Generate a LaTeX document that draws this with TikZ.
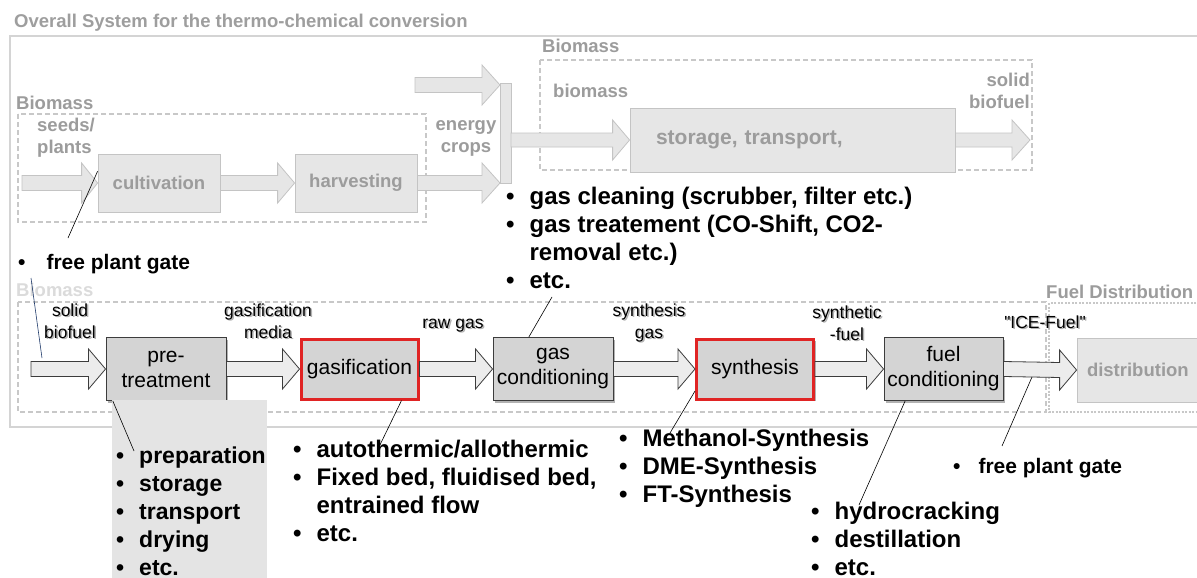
\documentclass[tikz,border=0pt]{standalone}
\usepackage{fontspec}
\setmainfont{Liberation Sans}
\usetikzlibrary{calc,shadows}
\definecolor{fadefill}{HTML}{E6E6E6}
\definecolor{fadedraw}{HTML}{C4C4C4}
\definecolor{fadetext}{HTML}{9C9C9C}
\definecolor{boxfill}{HTML}{D4D4D4}
\definecolor{boxdraw}{HTML}{3C3C3C}
\definecolor{redline}{HTML}{E02424}
\definecolor{arrfill}{HTML}{ECECEC}
\definecolor{dashcol}{HTML}{C8C8C8}
\definecolor{bluelink}{HTML}{1F3A6A}
\definecolor{listbg}{HTML}{E4E4E4}
\newcommand\fs[2]{\fontsize{#1}{#2}\selectfont}
\newcommand\shd[1]{\leavevmode\rlap{\hspace{1.5pt}\raisebox{-1.5pt}{\textcolor{black!30}{#1}}}#1}
\newcommand\blist[2][15pt]{\begin{tabular}[t]{@{}l@{\hspace{#1}}l@{}}#2\end{tabular}}
\newcommand\ctab[1]{\begin{tabular}[t]{@{}c@{}}#1\end{tabular}}
\newcommand\ltab[1]{\begin{tabular}[t]{@{}l@{}}#1\end{tabular}}
\newcommand\rtab[1]{\begin{tabular}[t]{@{}r@{}}#1\end{tabular}}
% start, tip, shaft half, head half, head length, style
\newcommand\blockarrow[6]{%
  \draw[#6] ($(#1)+(0,-#3)$) -- ($(#2)+(-#5,-#3)$) -- ($(#2)+(-#5,-#4)$) -- (#2)
    -- ($(#2)+(-#5,#4)$) -- ($(#2)+(-#5,#3)$) -- ($(#1)+(0,#3)$) -- cycle;}
\begin{document}
\begin{tikzpicture}[x=1pt,y=-1pt,
  fadebox/.style={draw=fadedraw, fill=fadefill, line width=0.8pt, font=\bfseries\fs{18.5}{22}, text=fadetext, inner sep=0pt},
  mainbox/.style={draw=boxdraw, fill=boxfill, line width=0.9pt, font=\fs{21}{25}, align=center, inner sep=0pt,
     minimum width=120pt, minimum height=63pt,
     drop shadow={shadow xshift=2pt, shadow yshift=-2pt, fill=black!30, opacity=1}},
  redbox/.style={mainbox, draw=redline, line width=3pt},
  fadearrow/.style={draw=fadedraw, fill=fadefill, line width=0.8pt},
  mainarrow/.style={draw=boxdraw, fill=arrfill, line width=0.8pt},
  dashbox/.style={draw=dashcol, dash pattern=on 5pt off 3pt, line width=1.1pt},
  fadelabel/.style={font=\bfseries\fs{18.5}{22}, text=fadetext, inner sep=0pt},
  flowlabel/.style={font=\fs{17.5}{22}, inner sep=0pt, anchor=base},
  bulletlist/.style={font=\bfseries\fs{24}{28}, inner sep=0pt, anchor=base west},
  smalllist/.style={bulletlist, font=\bfseries\fs{21}{25}},
  link/.style={draw=black, line width=0.6pt}]
\useasboundingbox (0,0) rectangle (1197,578);
\fill[white] (0,0) rectangle (1197,578);

% outer frame and title
\draw[draw=black!17, line width=1.4pt] (10,36) rectangle (1210,427);
\node[fadelabel, anchor=base west, text=black!38] (title) at (14,28) {Overall System for the thermo-chemical conversion};

% ---------- upper (faded) part ----------
\draw[dashbox] (18,114) rectangle (426,222);
\draw[dashbox] (540,60) rectangle (1032,170);
\node[fadelabel, anchor=base west] (bm1) at (16,109) {Biomass};
\node[fadelabel, anchor=base west] (seeds) at (37,131) {\ltab{seeds/\\plants}};
\node[fadelabel, anchor=base] (ecrops) at (466,130) {\ctab{energy\\crops}};
\node[fadelabel, anchor=base west] (bm2) at (542,53) {Biomass};
\node[fadelabel, anchor=base west] (bm3) at (553,97) {biomass};
\node[fadelabel, anchor=base east] (sbf) at (1030,86) {\rtab{solid\\biofuel}};

\node[fadebox, minimum width=122pt, minimum height=58pt] (cult) at (159,183) {cultivation};
\node[fadebox, minimum width=122pt, minimum height=58pt] (harv) at (356,183) {harvesting};
\node[fadebox, minimum width=11pt, minimum height=100pt] (bar) at (505.5,133) {};
\node[fadebox, minimum width=325pt, minimum height=64pt, text width=273pt, align=left, inner xsep=26pt, font=\bfseries\fs{21}{25}] (stor) at (792.5,140) {storage, transport,};

\coordinate (in0) at (22,183);
\coordinate (in1) at (415,85);
\coordinate (barTop) at (500,85);
\coordinate (barBot) at (500,183);
\coordinate (barOut) at (511,140);
\coordinate (out1) at (1030,140);
\blockarrow{in0}{cult.west}{7.5}{20}{16}{fadearrow}
\blockarrow{cult.east}{harv.west}{7.5}{20}{17}{fadearrow}
\blockarrow{harv.east}{barBot}{7.5}{20}{18}{fadearrow}
\blockarrow{in1}{barTop}{7.5}{20}{18}{fadearrow}
\blockarrow{barOut}{stor.west}{7}{20}{17}{fadearrow}
\blockarrow{stor.east}{out1}{7}{20}{18}{fadearrow}

% ---------- lower part ----------
\draw[dashbox] (18,302) rectangle (1046,412);
\draw[draw=dashcol, dash pattern=on 2pt off 1.5pt, line width=2pt] (1210,303) -- (1049,303) -- (1049,412) -- (1210,412);
\node[fadelabel, anchor=base west, text=black!14] (bm4) at (16,296) {Biomass};
\node[fadelabel, anchor=base west] (fdist) at (1046,298) {Fuel Distribution};

\node[mainbox] (pre) at (166,369) {pre-\\treatment};
\node[redbox, minimum width=117pt, minimum height=60pt] (gas) at (359.5,369) {gasification};
\node[mainbox] (gcond) at (553,369) {gas\\conditioning};
\node[redbox, minimum width=117pt, minimum height=60pt] (syn) at (755,369) {synthesis};
\node[mainbox, minimum width=119pt] (fcond) at (943.5,369) {fuel\\conditioning};
\node[fadebox, minimum width=130pt, minimum height=64pt, text width=110pt, align=left, inner xsep=10pt] (dist) at (1142,370) {distribution};

\coordinate (in2) at (31,369);
\coordinate (icept) at (1032,377);
\blockarrow{in2}{pre.west}{7.5}{20}{17}{mainarrow}
\blockarrow{pre.east}{gas.west}{7.5}{20}{17}{mainarrow}
\blockarrow{gas.east}{gcond.west}{7.5}{20}{17}{mainarrow}
\blockarrow{gcond.east}{syn.west}{7.5}{20}{17}{mainarrow}
\blockarrow{syn.east}{fcond.west}{7.5}{20}{17}{mainarrow}
\blockarrow{fcond.east}{dist.west}{7.5}{20}{17}{mainarrow}

% flow labels
\node[flowlabel] (l1) at (70,316) {\ctab{\shd{solid}\\\shd{biofuel}}};
\node[flowlabel] (l2) at (268,316) {\ctab{\shd{gasification}\\\shd{media}}};
\node[flowlabel] (l3) at (453,328) {\shd{raw gas}};
\node[flowlabel] (l4) at (649,316) {\ctab{\shd{synthesis}\\\shd{gas}}};
\node[flowlabel] (l5) at (847,318) {\ctab{\shd{synthetic}\\\shd{-fuel}}};
\node[flowlabel] (l6) at (1045,328) {\addfontfeatures{Ligatures=TeXOff}\shd{"ICE-Fuel"}};

% ---------- bullet lists ----------
\node[bulletlist] (gclist) at (506,204) {\blist{• & gas cleaning (scrubber, filter etc.)\\ • & gas treatement (CO-Shift, CO2-\\ & removal etc.)\\ • & etc.}};
\node[smalllist] (fpg1) at (18,269) {\blist[21pt]{• & free plant gate}};
\node[fill=listbg, minimum width=155pt, minimum height=178pt, anchor=north west, inner sep=0pt] (prebg) at (112,400) {};
\node[bulletlist, font=\bfseries\fs{23}{28}] (prelist) at (116,463) {\blist{• & preparation\\ • & storage\\ • & transport\\ • & drying\\ • & etc.}};
\node[bulletlist] (gaslist) at (293,457) {\blist{• & autothermic/allothermic\\ • & Fixed bed, fluidised bed,\\ & entrained flow\\ • & etc.}};
\node[bulletlist] (synlist) at (619,446) {\blist{• & Methanol-Synthesis\\ • & DME-Synthesis\\ • & FT-Synthesis}};
\node[bulletlist] (fclist) at (811,519) {\blist{• & hydrocracking\\ • & destillation\\ • & etc.}};
\node[smalllist] (fpg2) at (953,473) {\blist[18pt]{• & free plant gate}};

% ---------- connector lines ----------
\coordinate (c1) at (68,238);
\coordinate (b1a) at (31,278);
\coordinate (b1b) at (42,358);
\coordinate (c2) at (134,451);
\coordinate (c3) at (378,449);
\coordinate (c4) at (552,297);
\coordinate (c5) at (670,433);
\coordinate (c6) at (859,505);
\coordinate (c7) at (1002,446);
\draw[link] ($(cult.north west)!0.3!(cult.south west)$) -- (c1);
\draw[link, draw=bluelink] (b1a) -- (b1b);
\draw[link] ($(pre.south west)!0.06!(pre.south east)$) -- (c2);
\draw[link] ($(gas.south west)!0.85!(gas.south east)$) -- (c3);
\draw[link] ($(gcond.north west)!0.3!(gcond.north east)$) -- (c4);
\draw[link] ($(syn.south west)!0.15!(syn.north west)$) -- (c5);
\draw[link] ($(fcond.south west)!0.18!(fcond.south east)$) -- (c6);
\draw[link] (icept) -- (c7);
\end{tikzpicture}
\end{document}
